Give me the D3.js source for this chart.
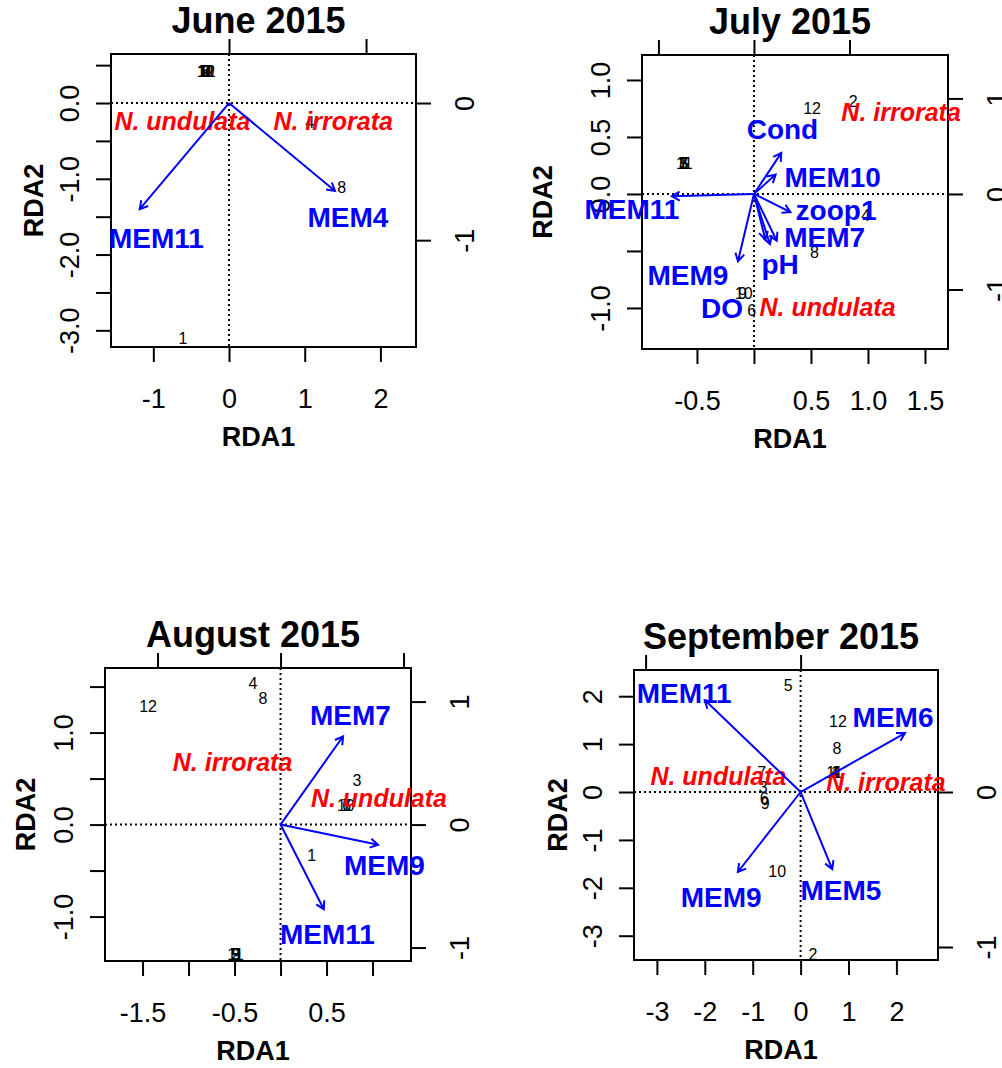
<!DOCTYPE html>
<html lang="en">
<head>
<meta charset="UTF-8">
<title>RDA triplots 2015</title>
<script src="https://d3js.org/d3.v7.min.js"></script>
<style>
    body { margin: 0; background: #fff; }
    svg { display: block; font-family: "Liberation Sans", Arial, Helvetica, sans-serif; }
    .tick-label { font-size: 27px; fill: #000; }
    .axis-title { font-size: 27px; font-weight: bold; }
    .title { font-size: 36px; font-weight: bold; }
    .site { font-size: 16px; fill: #000; }
    .species { font-size: 25px; font-weight: bold; font-style: italic; fill: #ff0000; }
    .env { font-size: 28px; font-weight: bold; fill: #0000ff; }
    .arrow { stroke: #0000ff; stroke-width: 2; fill: none; }
    .zero { stroke: #000; stroke-width: 2; stroke-dasharray: 2,3; }
    .frame { fill: none; stroke: #000; stroke-width: 2; }
    .axis line { stroke: #000; stroke-width: 2; }
</style>
</head>
<body>
<svg width="1002" height="1068"></svg>
<script>
// site numbers shared by all months
const siteIds = ["1", "2", "3", "4", "5", "6", "7", "8", "9", "10", "11", "12"];
const speciesNames = ["N. undulata", "N. irrorata"];

// June 2015
const juneSiteX = [-0.61, -0.30, -0.30, 1.07, -0.31, -0.30, -0.29, 1.49, -0.30, -0.31, -0.29, -0.30];
const juneSiteY = [-3.10, 0.42, 0.42, -0.25, 0.42, 0.42, 0.42, -1.11, 0.42, 0.42, 0.42, 0.42];
const juneSpX = [-0.34, 0.76];
const juneSpY = [-0.13, -0.13];
const juneVars = ["MEM11", "MEM4"];
const juneArrX = [-1.18, 1.40];
const juneArrY = [-1.40, -1.16];
const juneLabX = [-0.96, 1.57];
const juneLabY = [-1.78, -1.51];

// July 2015
const julySiteX = [-0.62, 0.87, -0.62, 0.98, -0.61, -0.02, -0.62, 0.53, -0.10, -0.09, -0.61, 0.51];
const julySiteY = [0.27, 0.81, 0.27, -0.19, 0.27, -1.02, 0.27, -0.51, -0.87, -0.87, 0.27, 0.75];
const julySpX = [0.77, 1.54];
const julySpY = [-1.19, 0.86];
const julyVars = ["Cond", "MEM10", "MEM11", "zoop1", "MEM7", "pH", "MEM9", "DO"];
const julyArrX = [0.24, 0.19, -0.72, 0.32, 0.20, 0.14, -0.14, 0.10];
const julyArrY = [0.36, 0.17, -0.02, -0.16, -0.41, -0.44, -0.59, -0.40];
const julyLabX = [0.25, 0.69, -1.07, 0.72, 0.62, 0.23, -0.58, -0.28];
const julyLabY = [0.57, 0.15, -0.13, -0.14, -0.38, -0.62, -0.71, -1.00];

// August 2015
const augSiteX = [0.34, -0.49, 0.83, -0.30, -0.49, 0.72, 0.72, -0.19, -0.48, 0.71, -0.49, -1.44];
const augSiteY = [-0.33, -1.41, 0.48, 1.54, -1.41, 0.21, 0.21, 1.37, -1.41, 0.21, -1.41, 1.28];
const augSpX = [0.80, -0.39];
const augSpY = [0.21, 0.51];
const augVars = ["MEM7", "MEM9", "MEM11"];
const augArrX = [0.68, 1.06, 0.47];
const augArrY = [0.96, -0.22, -0.92];
const augLabX = [0.76, 1.13, 0.51];
const augLabY = [1.19, -0.44, -1.19];

// September 2015
const sepSiteX = [0.72, 0.26, -0.78, 0.72, -0.26, -0.76, -0.81, 0.76, -0.74, -0.49, 0.71, 0.78];
const sepSiteY = [0.40, -3.38, 0.10, 0.40, 2.23, -0.13, 0.40, 0.92, -0.23, -1.65, 0.40, 1.48];
const sepSpX = [-0.53, 0.55];
const sepSpY = [0.10, 0.06];
const sepVars = ["MEM11", "MEM6", "MEM9", "MEM5"];
const sepArrX = [-2.00, 2.18, -1.31, 0.66];
const sepArrY = [1.92, 1.23, -1.67, -1.61];
const sepLabX = [-2.43, 1.93, -1.66, 0.84];
const sepLabY = [2.07, 1.57, -2.19, -2.05];

// axis ticks (site scale for bottom/left, species scale for top/right)
const juneXTicks = [-1, 0, 1, 2], juneXLabels = ["-1", "0", "1", "2"];
const juneYTicks = [0.5, 0, -0.5, -1, -1.5, -2, -2.5, -3], juneYLabels = ["", "0.0", "", "-1.0", "", "-2.0", "", "-3.0"];
const juneTopTicks = [0, 1];
const juneRightTicks = [0, -1], juneRightLabels = ["0", "-1"];

const julyXTicks = [-0.5, 0, 0.5, 1, 1.5], julyXLabels = ["-0.5", "", "0.5", "1.0", "1.5"];
const julyYTicks = [1, 0.5, 0, -0.5, -1], julyYLabels = ["1.0", "0.5", "0.0", "", "-1.0"];
const julyTopTicks = [-1, 0, 1];
const julyRightTicks = [1, 0, -1], julyRightLabels = ["1", "0", "-1"];

const augXTicks = [-1.5, -1, -0.5, 0, 0.5, 1], augXLabels = ["-1.5", "", "-0.5", "", "0.5", ""];
const augYTicks = [1.5, 1, 0.5, 0, -0.5, -1], augYLabels = ["", "1.0", "", "0.0", "", "-1.0"];
const augTopTicks = [-1, 0, 1];
const augRightTicks = [1, 0, -1], augRightLabels = ["1", "0", "-1"];

const sepXTicks = [-3, -2, -1, 0, 1, 2], sepXLabels = ["-3", "-2", "-1", "0", "1", "2"];
const sepYTicks = [2, 1, 0, -1, -2, -3], sepYLabels = ["2", "1", "0", "-1", "-2", "-3"];
const sepTopTicks = [-1, 0];
const sepRightTicks = [0, -1], sepRightLabels = ["0", "-1"];

// panel layout: plot box in pixels, axis limits, species/site scale ratio
const panels = [
    {title: "June 2015", box: [111, 416, 54, 347], xlim: [-1.559, 2.47], ylim: [-3.22, 0.647], mul: 1.81, ylabOff: 68,
     siteX: juneSiteX, siteY: juneSiteY, spX: juneSpX, spY: juneSpY,
     vars: juneVars, arrX: juneArrX, arrY: juneArrY, labX: juneLabX, labY: juneLabY,
     xTicks: juneXTicks, xLabels: juneXLabels, yTicks: juneYTicks, yLabels: juneYLabels,
     topTicks: juneTopTicks, rightTicks: juneRightTicks, rightLabels: juneRightLabels},
    {title: "July 2015", box: [642, 948, 55, 349], xlim: [-0.982, 1.702], ylim: [-1.36, 1.219], mul: 0.838, ylabOff: 90,
     siteX: julySiteX, siteY: julySiteY, spX: julySpX, spY: julySpY,
     vars: julyVars, arrX: julyArrX, arrY: julyArrY, labX: julyLabX, labY: julyLabY,
     xTicks: julyXTicks, xLabels: julyXLabels, yTicks: julyYTicks, yLabels: julyYLabels,
     topTicks: julyTopTicks, rightTicks: julyRightTicks, rightLabels: julyRightLabels},
    {title: "August 2015", box: [105, 411, 668, 961], xlim: [-1.908, 1.418], ylim: [-1.483, 1.702], mul: 1.337, ylabOff: 70,
     siteX: augSiteX, siteY: augSiteY, spX: augSpX, spY: augSpY,
     vars: augVars, arrX: augArrX, arrY: augArrY, labX: augLabX, labY: augLabY,
     xTicks: augXTicks, xLabels: augXLabels, yTicks: augYTicks, yLabels: augYLabels,
     topTicks: augTopTicks, rightTicks: augRightTicks, rightLabels: augRightLabels},
    {title: "September 2015", box: [634, 938, 670, 960], xlim: [-3.478, 2.868], ylim: [-3.507, 2.547], mul: 3.236, ylabOff: 67,
     siteX: sepSiteX, siteY: sepSiteY, spX: sepSpX, spY: sepSpY,
     vars: sepVars, arrX: sepArrX, arrY: sepArrY, labX: sepLabX, labY: sepLabY,
     xTicks: sepXTicks, xLabels: sepXLabels, yTicks: sepYTicks, yLabels: sepYLabels,
     topTicks: sepTopTicks, rightTicks: sepRightTicks, rightLabels: sepRightLabels}
];

const svg = d3.select("svg");
svg.append("rect").attr("width", 1002).attr("height", 1068).attr("fill", "#fff");

const tickLen = 15;

function arrowPath(x0, y0, x1, y1) {
    const len = 9, ang = Math.PI / 6;
    const a = Math.atan2(y1 - y0, x1 - x0);
    return "M" + x0 + "," + y0 + "L" + x1 + "," + y1 +
        "M" + (x1 - len * Math.cos(a - ang)) + "," + (y1 - len * Math.sin(a - ang)) +
        "L" + x1 + "," + y1 +
        "L" + (x1 - len * Math.cos(a + ang)) + "," + (y1 - len * Math.sin(a + ang));
}

function drawPanel(p) {
    const [left, right, top, bottom] = p.box;
    const x = d3.scaleLinear().domain(p.xlim).range([left, right]);
    const y = d3.scaleLinear().domain(p.ylim).range([bottom, top]);
    // species (top/right axes) use their own scaling
    const xs = d3.scaleLinear().domain(p.xlim.map(v => v / p.mul)).range([left, right]);
    const ys = d3.scaleLinear().domain(p.ylim.map(v => v / p.mul)).range([bottom, top]);

    const g = svg.append("g");

    // bottom axis
    const bx = g.append("g").attr("class", "axis")
        .attr("transform", "translate(0," + bottom + ")")
        .call(d3.axisBottom(x).tickValues(p.xTicks).tickSize(tickLen).tickPadding(27)
            .tickFormat((d, i) => p.xLabels[i]));
    bx.select(".domain").remove();
    bx.selectAll("text").attr("class", "tick-label").attr("font-size", null).attr("font-family", null);

    // left axis, labels parallel to the axis
    const ly = g.append("g").attr("class", "axis")
        .attr("transform", "translate(" + left + ",0)")
        .call(d3.axisLeft(y).tickValues(p.yTicks).tickSize(tickLen)
            .tickFormat((d, i) => p.yLabels[i]));
    ly.select(".domain").remove();
    ly.selectAll("text").attr("class", "tick-label").attr("font-size", null).attr("font-family", null)
        .attr("x", null).attr("dy", null).attr("text-anchor", "middle")
        .attr("transform", "translate(-32,0) rotate(-90)");

    // top axis (species scale, ticks only)
    const tx = g.append("g").attr("class", "axis")
        .attr("transform", "translate(0," + top + ")")
        .call(d3.axisTop(xs).tickValues(p.topTicks).tickSize(tickLen).tickFormat(""));
    tx.select(".domain").remove();

    // right axis (species scale)
    const ry = g.append("g").attr("class", "axis")
        .attr("transform", "translate(" + right + ",0)")
        .call(d3.axisRight(ys).tickValues(p.rightTicks).tickSize(tickLen)
            .tickFormat((d, i) => p.rightLabels[i]));
    ry.select(".domain").remove();
    ry.selectAll("text").attr("class", "tick-label").attr("font-size", null).attr("font-family", null)
        .attr("x", null).attr("dy", null).attr("text-anchor", "middle")
        .attr("transform", "translate(58,0) rotate(-90)");

    // dotted zero lines
    g.append("line").attr("class", "zero")
        .attr("x1", left).attr("x2", right).attr("y1", y(0)).attr("y2", y(0));
    g.append("line").attr("class", "zero")
        .attr("x1", x(0)).attr("x2", x(0)).attr("y1", top).attr("y2", bottom);

    // box
    g.append("rect").attr("class", "frame")
        .attr("x", left).attr("y", top).attr("width", right - left).attr("height", bottom - top);

    // titles
    const cx = (left + right) / 2 - 5;
    g.append("text").attr("class", "title").attr("text-anchor", "middle")
        .attr("x", cx).attr("y", top - 21).text(p.title);
    g.append("text").attr("class", "axis-title").attr("text-anchor", "middle")
        .attr("x", cx).attr("y", bottom + 99).text("RDA1");
    g.append("text").attr("class", "axis-title").attr("text-anchor", "middle")
        .attr("transform", "translate(" + (left - p.ylabOff) + "," + ((top + bottom) / 2) + ") rotate(-90)")
        .text("RDA2");

    // sites
    g.selectAll(".site").data(siteIds).join("text")
        .attr("class", "site").attr("text-anchor", "middle").attr("dy", "0.35em")
        .attr("x", (d, i) => x(p.siteX[i])).attr("y", (d, i) => y(p.siteY[i]))
        .text(d => d);

    // species
    g.selectAll(".species").data(speciesNames).join("text")
        .attr("class", "species").attr("text-anchor", "middle").attr("dy", "0.35em")
        .attr("x", (d, i) => xs(p.spX[i])).attr("y", (d, i) => ys(p.spY[i]))
        .text(d => d);

    // biplot arrows
    g.selectAll(".arrow").data(p.vars).join("path")
        .attr("class", "arrow")
        .attr("d", (d, i) => arrowPath(x(0), y(0), x(p.arrX[i]), y(p.arrY[i])));

    g.selectAll(".env").data(p.vars).join("text")
        .attr("class", "env").attr("text-anchor", "middle").attr("dy", "0.35em")
        .attr("x", (d, i) => x(p.labX[i])).attr("y", (d, i) => y(p.labY[i]))
        .text(d => d);
}

panels.forEach(drawPanel);
</script>
</body>
</html>
